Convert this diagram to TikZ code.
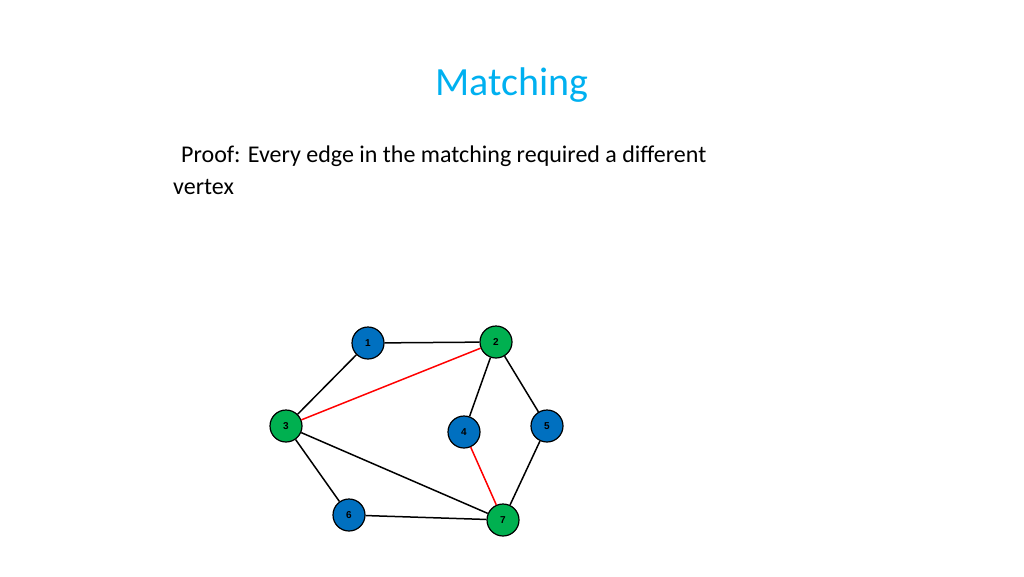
\documentclass[tikz,border=0pt]{standalone}
\usepackage{fontspec}
\setmainfont{Carlito}
\newfontfamily\labfont{Liberation Sans}
\definecolor{titlec}{RGB}{0,176,240}
\definecolor{vblue}{RGB}{0,112,192}
\definecolor{vgreen}{RGB}{0,176,80}
\begin{document}
\begin{tikzpicture}[x=1pt,y=-1pt,
  vtx/.style={circle,draw=black,line width=1.2pt,minimum size=32pt,inner sep=0pt,font=\labfont\bfseries\fontsize{10}{12}\selectfont},
  bv/.style={vtx,fill=vblue},
  gv/.style={vtx,fill=vgreen},
  edge/.style={line width=1.5pt,black},
  medge/.style={line width=1.5pt,red}]
\useasboundingbox (0,0) rectangle (1024,576);
\node[text=titlec,font=\fontsize{40}{48}\selectfont] (title) at (512,85) {Matching};
\node[anchor=base west,font=\fontsize{24}{29}\selectfont,inner sep=0pt] (l1) at (181,162) {Proof: Every edge in the matching required a different};
\node[anchor=base west,font=\fontsize{24}{29}\selectfont,inner sep=0pt] (l2) at (173,194) {vertex};
\node[bv] (n1) at (368,343) {1};
\node[gv] (n2) at (496,342) {2};
\node[gv] (n3) at (286,426) {3};
\node[bv] (n4) at (464,432) {4};
\node[bv] (n5) at (547,426) {5};
\node[bv] (n6) at (349,515) {6};
\node[gv] (n7) at (503,520) {7};
\draw[edge] (n1)--(n2);
\draw[edge] (n1)--(n3);
\draw[medge] (n3)--(n2);
\draw[edge] (n2)--(n4);
\draw[edge] (n2)--(n5);
\draw[medge] (n4)--(n7);
\draw[edge] (n5)--(n7);
\draw[edge] (n3)--(n6);
\draw[edge] (n3)--(n7);
\draw[edge] (n6)--(n7);
\end{tikzpicture}
\end{document}
